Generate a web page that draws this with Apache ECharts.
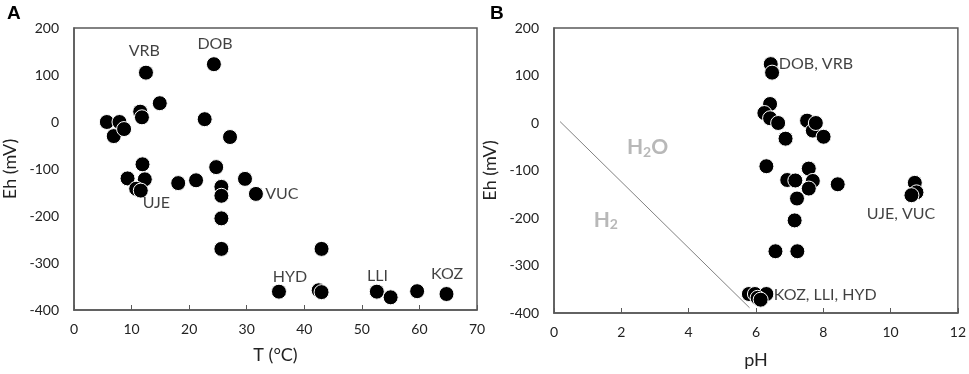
<!DOCTYPE html>
<html>
<head>
<meta charset="utf-8">
<script src="https://cdn.jsdelivr.net/npm/echarts@6/dist/echarts.min.js"></script>
<style>
  html, body { margin: 0; padding: 0; background: #fff; }
  #chart { width: 969px; height: 374px; }
</style>
</head>
<body>
<div id="chart"></div>
<script>
// panel A: temperature vs Eh
var tempEh = [
  [5.7, 0], [6.9, -30], [7.9, 0], [8.7, -15], [11.5, 22], [11.8, 10],
  [12.5, 105], [14.9, 40], [24.3, 123], [22.7, 6], [27.1, -32],
  [11.9, -90], [9.3, -120], [12.3, -122], [18.1, -130], [21.2, -124],
  [24.7, -96], [29.7, -121], [25.6, -138], [10.8, -142], [11.6, -146],
  [25.6, -157], [31.6, -153], [25.6, -205], [25.6, -270], [43.0, -270],
  [35.6, -361], [42.5, -358], [43.0, -362], [52.6, -361], [55.0, -373],
  [59.6, -360], [64.7, -366]
];
// panel B: pH vs Eh
var phEh = [
  [6.44, 124], [6.48, 106], [6.42, 40], [6.25, 21], [6.42, 10], [6.66, 0],
  [6.88, -33], [7.52, 5], [7.69, -16], [7.78, 0], [8.01, -29],
  [6.31, -91], [7.57, -96], [6.93, -120], [7.17, -121], [7.69, -122],
  [8.43, -129], [10.72, -126], [7.57, -138], [7.22, -159], [10.77, -146],
  [10.62, -152], [7.15, -205], [6.58, -270], [7.23, -270],
  [5.79, -360], [5.97, -360], [6.31, -360], [6.05, -368], [6.14, -372]
];
// H2O / H2 boundary
var waterLine = [[0.18, 3], [5.81, -389]];

var labelsA = [
  ['VRB', 12.2, 152], ['DOB', 24.5, 167], ['UJE', 14.3, -173], ['VUC', 36.1, -152],
  ['HYD', 37.5, -330], ['LLI', 52.7, -328], ['KOZ', 64.8, -324]
];
var labelsB = [
  ['DOB, VRB', 6.68, 124, 'left'], ['UJE, VUC', 10.31, -192, 'center'],
  ['KOZ, LLI, HYD', 6.53, -361, 'left']
];

var font = 'Lato, "Open Sans", sans-serif';
var frame = '#595959';

function xAxisOf(idx, max, interval, name, gap) {
  return {
    gridIndex: idx, type: 'value', min: 0, max: max, interval: interval,
    name: name, nameLocation: 'middle', nameGap: gap,
    nameTextStyle: { fontFamily: font, fontSize: 18, color: '#222' },
    axisLine: { show: true, onZero: false, lineStyle: { color: frame, width: 1.5 } },
    axisTick: { show: true, inside: true, length: 5, lineStyle: { color: frame } },
    axisLabel: { fontFamily: font, fontSize: 14, color: '#222', margin: 12 },
    splitLine: { show: false }
  };
}
function yAxisOf(idx) {
  return {
    gridIndex: idx, type: 'value', min: -400, max: 200, interval: 100,
    name: 'Eh (mV)', nameLocation: 'middle', nameGap: 55,
    nameTextStyle: { fontFamily: font, fontSize: 18, color: '#222' },
    axisLine: { show: true, onZero: false, lineStyle: { color: frame, width: 1.5 } },
    axisTick: { show: false },
    axisLabel: { fontFamily: font, fontSize: 14, color: '#222', margin: 15 },
    splitLine: { show: false }
  };
}

function textSeries(xi, list) {
  return {
    type: 'scatter', xAxisIndex: xi, yAxisIndex: xi, symbolSize: 0, silent: true,
    data: list.map(function (l) {
      return {
        value: [l[1], l[2]],
        label: {
          show: true, formatter: l[0], position: 'inside',
          align: l[3] || 'center', verticalAlign: 'middle',
          fontFamily: font, fontSize: 16, color: '#111'
        }
      };
    })
  };
}

var dotStyle = { color: '#000', borderColor: '#fff', borderWidth: 1, opacity: 1 };

var chart = echarts.init(document.getElementById('chart'));
chart.setOption({
  animation: false,
  grid: [
    { left: 72, top: 28, width: 405, height: 282, show: true, borderColor: frame, borderWidth: 1.5 },
    { left: 554, top: 28, width: 405, height: 287, show: true, borderColor: frame, borderWidth: 1.5 }
  ],
  xAxis: [xAxisOf(0, 70, 10, 'T (°C)', 36), xAxisOf(1, 12, 2, 'pH', 38)],
  yAxis: [yAxisOf(0), yAxisOf(1)],
  graphic: [
    { type: 'text', left: 7, top: 4, style: { text: 'A', font: 'bold 19px "Liberation Sans", Arial', fill: '#000' } },
    { type: 'text', left: 490, top: 4, style: { text: 'B', font: 'bold 19px "Liberation Sans", Arial', fill: '#000' } }
  ],
  series: [
    { type: 'scatter', xAxisIndex: 0, yAxisIndex: 0, symbolSize: 15, itemStyle: dotStyle, data: tempEh },
    {
      type: 'line', xAxisIndex: 1, yAxisIndex: 1, data: waterLine, symbol: 'none',
      lineStyle: { color: '#808080', width: 1 }, silent: true
    },
    { type: 'scatter', xAxisIndex: 1, yAxisIndex: 1, symbolSize: 15, itemStyle: dotStyle, data: phEh },
    textSeries(0, labelsA),
    textSeries(1, labelsB),
    {
      type: 'scatter', xAxisIndex: 1, yAxisIndex: 1, symbolSize: 0, silent: true,
      data: [
        { value: [2.78, -52], label: { show: true, position: 'inside', formatter: '{b|H}{s|2}{b|O}',
          rich: { b: { fontFamily: font, fontSize: 21, fontWeight: 'bold', color: '#a6a6a6' },
                  s: { fontFamily: font, fontSize: 14, fontWeight: 'bold', color: '#a6a6a6', verticalAlign: 'bottom', padding: [10, 0, 0, 0] } } } },
        { value: [1.54, -204], label: { show: true, position: 'inside', formatter: '{b|H}{s|2}',
          rich: { b: { fontFamily: font, fontSize: 21, fontWeight: 'bold', color: '#a6a6a6' },
                  s: { fontFamily: font, fontSize: 14, fontWeight: 'bold', color: '#a6a6a6', verticalAlign: 'bottom', padding: [10, 0, 0, 0] } } } }
      ]
    }
  ]
});
</script>
</body>
</html>
